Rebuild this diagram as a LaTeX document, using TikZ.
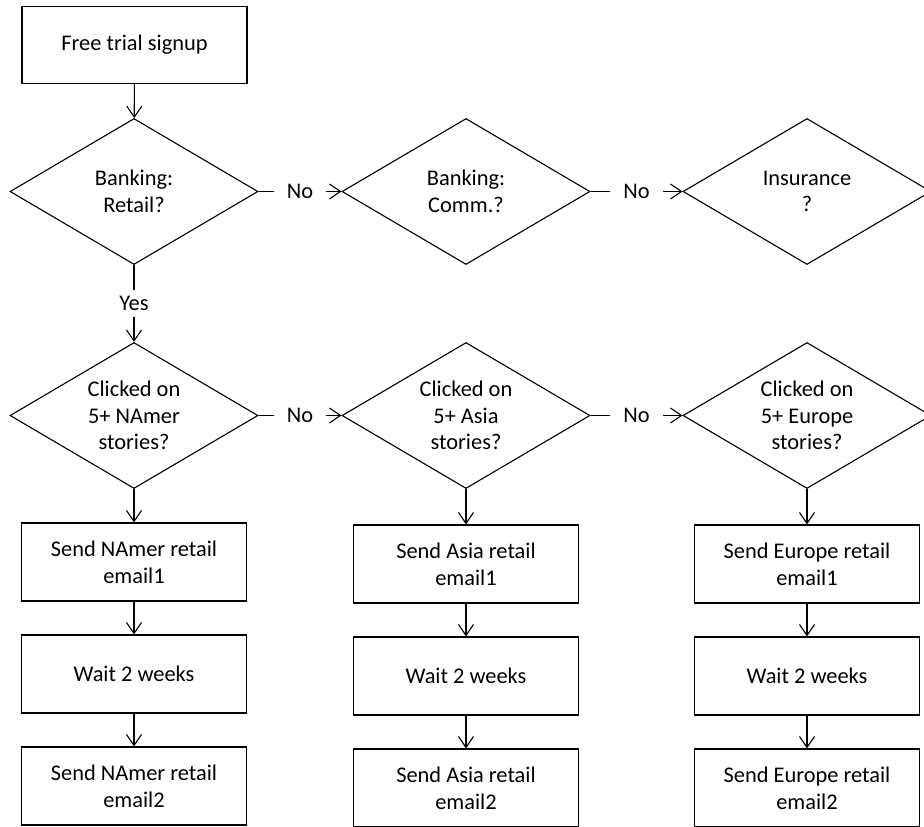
\documentclass[tikz,border=0pt]{standalone}
\usepackage{fontspec}
\setmainfont{Carlito}
\usetikzlibrary{shapes.geometric,arrows.meta}
\tikzset{
    box/.style={draw, minimum width=225pt, minimum height=78pt, align=center, inner sep=0pt},
    decision/.style={draw, diamond, aspect=1.7, minimum width=248pt, minimum height=146pt, align=center, inner sep=0pt},
    flow/.style={-{Straight Barb[length=11pt,width=15pt]}},
    answer/.style={fill=white, inner xsep=13pt, inner ysep=6pt}
}

\begin{document}
\begin{tikzpicture}[x=1pt, y=-1pt, line width=1.1pt, font=\fontsize{22.4}{26.7}\selectfont]
    \useasboundingbox (0,0) rectangle (924,827);
    \node[box, minimum height=77pt] (signup) at (134.5,45) {Free trial signup};
    \node[decision] (retail) at (134,191.5) {Banking:\\Retail?};
    \node[decision] (comm) at (466,191.5) {Banking:\\Comm.?};
    \node[decision] (insurance) at (807,191.5) {Insurance\\?};
    \draw[flow] (signup) -- (retail);
    \draw[flow] (retail) -- node[answer]{No} (comm);
    \draw[flow] (comm) -- node[answer]{No} (insurance);

    \foreach \x/\dy/\n/\reg in {134/0/a/NAmer, 466/2/b/Asia, 807/2/c/Europe}{
        \node[decision] (click\n) at (\x,415.5) {Clicked on\\5+ \reg\\stories?};
        \node[box] (first\n) at (\x,562+\dy) {Send \reg{} retail\\email1};
        \node[box] (wait\n) at (\x,674+\dy) {Wait 2 weeks};
        \node[box] (second\n) at (\x,786+\dy) {Send \reg{} retail\\email2};
        \draw[flow] (click\n) -- (first\n);
        \draw[flow] (first\n) -- (wait\n);
        \draw[flow] (wait\n) -- (second\n);
    }
    \draw[flow] (retail) -- node[answer]{Yes} (clicka);
    \draw[flow] (clicka) -- node[answer]{No} (clickb);
    \draw[flow] (clickb) -- node[answer]{No} (clickc);
\end{tikzpicture}
\end{document}
